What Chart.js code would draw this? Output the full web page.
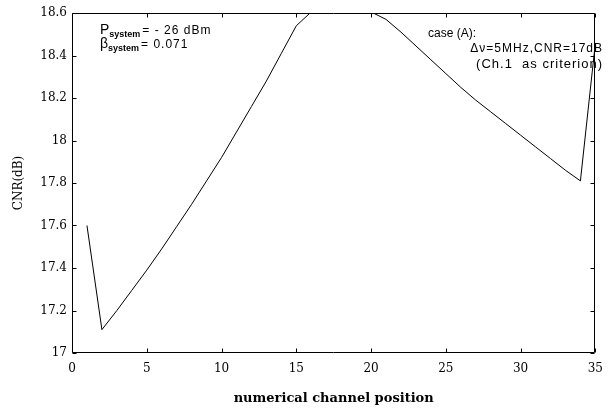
<!DOCTYPE html>
<html>
<head>
<meta charset="utf-8">
<script src="https://cdn.jsdelivr.net/npm/chart.js@4/dist/chart.umd.min.js"></script>
<style>
  html, body { margin: 0; padding: 0; background: #fff; }
  #wrap { width: 612px; height: 414px; }
</style>
</head>
<body>
<div id="wrap"><canvas id="cnr-chart" width="612" height="414"></canvas></div>
<script>
// channel positions 1..35
const channels = [1, 2, 3, 4, 5, 6, 7, 8, 9, 10, 11, 12, 13, 14, 15, 16, 17, 18,
  19, 20, 21, 22, 23, 24, 25, 26, 27, 28, 29, 30, 31, 32, 33, 34, 35];

// CNR (dB); 16..20 run past the top edge and get clipped
const cnrValues = [17.60, 17.11, 17.20, 17.295, 17.39, 17.49, 17.595, 17.70, 17.81,
  17.92, 18.04, 18.16, 18.28, 18.41, 18.54, 18.605, 18.64, 18.65, 18.64, 18.605,
  18.57, 18.51, 18.445, 18.38, 18.315, 18.25, 18.19, 18.135, 18.08, 18.025, 17.97,
  17.915, 17.86, 17.81, 18.46];

const xTicks = [0, 5, 10, 15, 20, 25, 30, 35];
const yTicks = [17, 17.2, 17.4, 17.6, 17.8, 18, 18.2, 18.4, 18.6];

const serif = 'DejaVu Serif';
const sans = 'Liberation Sans';

// frame, inward ticks, notes and axis titles
const decor = {
  id: 'decor',
  afterDraw(chart) {
    const { ctx, chartArea: a, scales } = chart;
    const tl = 4;
    const L = Math.round(a.left) + 0.5, R = Math.round(a.right) - 0.5;
    const T = Math.round(a.top) + 0.5, B = Math.round(a.bottom) - 0.5;
    ctx.save();
    ctx.strokeStyle = '#000';
    ctx.lineWidth = 1;
    ctx.beginPath();
    ctx.moveTo(L, T); ctx.lineTo(R, T); ctx.lineTo(R, B); ctx.lineTo(L, B); ctx.closePath();
    // ticks pointing inward
    xTicks.forEach(v => {
      const px = Math.round(scales.x.getPixelForValue(v)) + 0.5;
      ctx.moveTo(px, B); ctx.lineTo(px, B - tl);
      ctx.moveTo(px, T); ctx.lineTo(px, T + tl);
    });
    yTicks.forEach(v => {
      const py = Math.round(scales.y.getPixelForValue(v)) + 0.5;
      ctx.moveTo(L, py); ctx.lineTo(L + tl, py);
      ctx.moveTo(R, py); ctx.lineTo(R - tl, py);
    });
    ctx.stroke();

    ctx.fillStyle = '#000';
    ctx.textBaseline = 'alphabetic';

    // left notes
    function subLine(x, y, head, rest) {
      ctx.letterSpacing = '0px';
      ctx.font = '14px ' + sans;
      ctx.textAlign = 'left';
      ctx.fillText(head, x, y);
      let cx = x + ctx.measureText(head).width;
      ctx.font = 'bold 9px ' + sans;
      ctx.fillText('system', cx, y + 3);
      cx += ctx.measureText('system').width + 2;
      ctx.font = '12px ' + sans;
      ctx.letterSpacing = '1px';
      ctx.fillText(rest, cx, y);
      ctx.letterSpacing = '0px';
    }
    subLine(100, 34, 'P', '= - 26 dBm');
    subLine(100, 48, 'β', '= 0.071');

    // right notes
    ctx.font = '12px ' + sans;
    ctx.textAlign = 'left';
    ctx.fillText('case (A):', 428, 37);
    ctx.textAlign = 'right';
    ctx.letterSpacing = '1px';
    ctx.fillText('Δν=5MHz,CNR=17dB', 603, 52);
    ctx.font = '13px ' + sans;
    ctx.fillText('(Ch.1  as criterion)', 603, 68);
    ctx.letterSpacing = '0px';

    // axis titles
    ctx.textAlign = 'center';
    ctx.font = 'bold 13px ' + serif;
    ctx.fillText('numerical channel position', (a.left + a.right) / 2, 402);
    ctx.translate(22, 183);
    ctx.rotate(-Math.PI / 2);
    ctx.font = '12px ' + serif;
    ctx.fillText('CNR(dB)', 0, 0);
    ctx.restore();
  }
};

new Chart(document.getElementById('cnr-chart'), {
  type: 'line',
  data: {
    datasets: [{
      data: channels.map((c, i) => ({ x: c, y: cnrValues[i] })),
      borderColor: '#000',
      borderWidth: 1,
      pointRadius: 0,
      tension: 0,
      fill: false
    }]
  },
  options: {
    responsive: false,
    animation: false,
    devicePixelRatio: 1,
    layout: { autoPadding: false, padding: { top: 13, right: 6, left: 0, bottom: 0 } },
    plugins: { legend: { display: false }, tooltip: { enabled: false } },
    scales: {
      x: {
        type: 'linear',
        min: 0,
        max: 35,
        afterFit: s => { s.height = 61; },
        afterBuildTicks: s => { s.ticks = xTicks.map(v => ({ value: v })); },
        ticks: { color: '#000', padding: 9, maxRotation: 0, font: { family: serif, size: 12 } },
        grid: { display: false, drawTicks: false },
        border: { display: false }
      },
      y: {
        min: 17,
        max: 18.6,
        afterFit: s => { s.width = 72; },
        afterBuildTicks: s => { s.ticks = yTicks.map(v => ({ value: v })); },
        ticks: {
          color: '#000',
          padding: 5,
          font: { family: serif, size: 12 },
          callback: v => String(Math.round(v * 10) / 10)
        },
        grid: { display: false, drawTicks: false },
        border: { display: false }
      }
    }
  },
  plugins: [decor]
});
</script>
</body>
</html>
